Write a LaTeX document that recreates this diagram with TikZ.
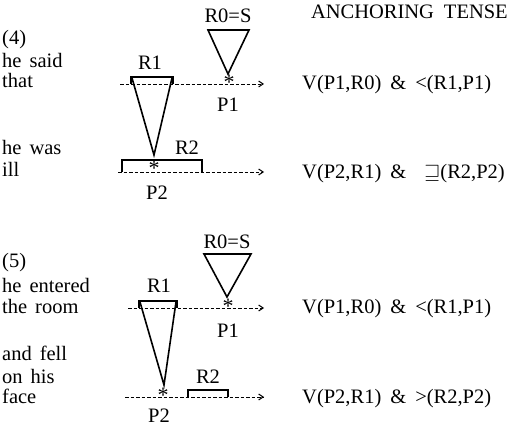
\documentclass[tikz,border=0pt]{standalone}
\usepackage{amssymb}
\usepackage{bm}
\usepackage{fontspec}
\setmainfont{Liberation Serif}
\usetikzlibrary{arrows.meta}
\begin{document}
\begin{tikzpicture}[x=1pt,y=-1pt,
  txt/.style={inner sep=0pt,font=\fontsize{20.5}{23}\selectfont},
  lt/.style={txt,anchor=base west},
  lbl/.style={txt,anchor=base},
  ast/.style={inner sep=0pt,anchor=base,font=\fontsize{22}{24}\selectfont},
  timeline/.style={line width=0.9pt,dash pattern=on 3.5pt off 2pt,-{Straight Barb[length=4.5pt,width=6pt,line width=1pt]}},
  tri/.style={line width=1.6pt,line join=miter},
  brk/.style={line width=1.6pt}]
\useasboundingbox (0,0) rectangle (512,425);
\def\gap{\hspace{9pt}}

% ---------- header
\node[txt,anchor=base east] (head) at (508,19) {ANCHORING\hspace{10pt}TENSE};

% ---------- example (4)
\node[lt] (n4) at (2,45) {(4)};
\node[lt] (t4a) at (2,68) {he\hspace{8pt}said};
\node[lt] (t4b) at (2,88) {that};
\node[lt] (t4c) at (2,155) {he\hspace{8pt}was};
\node[lt] (t4d) at (2,177) {ill};

\node[lbl] (r0a) at (228,23) {R0=S};
\node[lbl] (r1a) at (150,70) {R1};
\node[lbl] (p1a) at (228,112) {P1};
\node[lbl] (r2a) at (187,155) {R2};
\node[lbl] (p2a) at (157,200) {P2};

% R0 triangle
\coordinate (a0l) at (208,30); \coordinate (a0r) at (249,30); \coordinate (a0t) at (228,74);
\draw[tri] (a0l) -- (a0r) -- (a0t) -- cycle;
% R1 bracket and triangle
\coordinate (a1l) at (131,84); \coordinate (a1tl) at (131,77);
\coordinate (a1tr) at (173,77); \coordinate (a1r) at (173,84);
\coordinate (a1t) at (154,155);
\draw[brk] (a1l) -- (a1tl) -- (a1tr) -- (a1r);
\draw[tri] (132,78) -- (a1t) -- (172,78);
% R2 bracket
\coordinate (a2l) at (122,172); \coordinate (a2tl) at (122,160);
\coordinate (a2tr) at (202,160); \coordinate (a2r) at (202,172);
\draw[brk] (a2l) -- (a2tl) -- (a2tr) -- (a2r);
% time lines
\coordinate (l1s) at (120,84); \coordinate (l1e) at (264,84);
\coordinate (l2s) at (118,172); \coordinate (l2e) at (264,172);
\draw[timeline] (l1s) -- (l1e);
\draw[timeline] (l2s) -- (l2e);
\node[ast] (s1) at (229,90) {*};
\node[ast] (s2) at (154,176) {*};

\node[lt] (f1) at (302,90) {V(P1,R0)\gap\&\gap<(R1,P1)};
\node[lt] (f2) at (302,179) {V(P2,R1)\gap\&\hspace{18pt}$\sqsupseteq$(R2,P2)};

% ---------- example (5)
\node[lt] (n5) at (2,268) {(5)};
\node[lt] (t5a) at (2,292) {he\hspace{8pt}entered};
\node[lt] (t5b) at (2,313) {the\hspace{8pt}room};
\node[lt] (t5c) at (2,360) {and\hspace{8pt}fell};
\node[lt] (t5d) at (2,383) {on\hspace{8pt}his};
\node[lt] (t5e) at (2,403) {face};

\node[lbl] (r0b) at (227,249) {R0=S};
\node[lbl] (r1b) at (159,292) {R1};
\node[lbl] (p1b) at (228,337) {P1};
\node[lbl] (r2b) at (208,383) {R2};
\node[lbl] (p2b) at (159,422) {P2};

\coordinate (b0l) at (204,254); \coordinate (b0r) at (251,254); \coordinate (b0t) at (227,297);
\draw[tri] (b0l) -- (b0r) -- (b0t) -- cycle;
\coordinate (b1l) at (139,308); \coordinate (b1tl) at (139,301);
\coordinate (b1tr) at (177,301); \coordinate (b1r) at (177,308);
\coordinate (b1t) at (164,385);
\draw[brk] (b1l) -- (b1tl) -- (b1tr) -- (b1r);
\draw[tri] (140,302) -- (b1t) -- (176,302);
\coordinate (b2l) at (188,397); \coordinate (b2tl) at (188,390);
\coordinate (b2tr) at (228,390); \coordinate (b2r) at (228,397);
\draw[brk] (b2l) -- (b2tl) -- (b2tr) -- (b2r);
\coordinate (m1s) at (128,308); \coordinate (m1e) at (264,308);
\coordinate (m2s) at (125,397); \coordinate (m2e) at (264,397);
\draw[timeline] (m1s) -- (m1e);
\draw[timeline] (m2s) -- (m2e);
\node[ast] (s3) at (228,313) {*};
\node[ast] (s4) at (163,402) {*};

\node[lt] (f3) at (302,313) {V(P1,R0)\gap\&\gap<(R1,P1)};
\node[lt] (f4) at (302,403) {V(P2,R1)\gap\&\gap>(R2,P2)};
\end{tikzpicture}
\end{document}
